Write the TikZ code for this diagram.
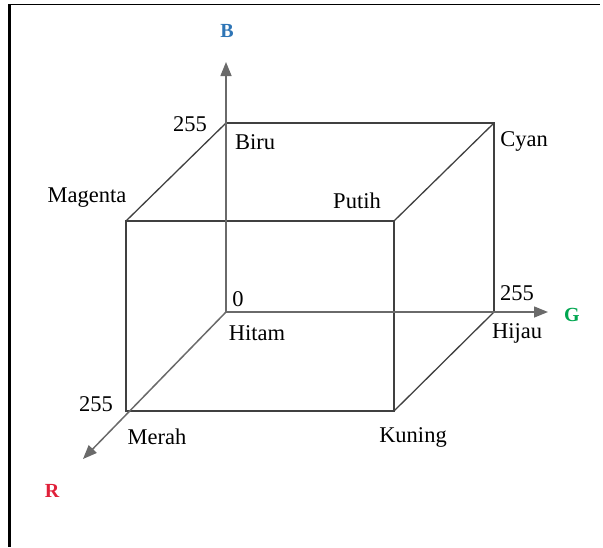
\documentclass[tikz,border=0pt]{standalone}
\usepackage{fontspec}
\setmainfont{Liberation Serif}
\usetikzlibrary{arrows.meta}
\definecolor{edgec}{HTML}{404040}
\definecolor{axisc}{HTML}{6A6A6A}
\definecolor{bblue}{HTML}{2E75B6}
\definecolor{ggreen}{HTML}{00A650}
\definecolor{rred}{HTML}{E0203A}
\tikzset{
  edge/.style={draw=edgec, line width=1.3pt},
  axis/.style={draw=axisc, line width=1.5pt, -{Triangle[length=14pt,width=11pt]}},
  lbl/.style={font=\fontsize{22.5}{26}\selectfont, text=black, inner sep=0pt},
  axlbl/.style={font=\fontsize{20}{23}\selectfont\bfseries, inner sep=0pt},
}
\begin{document}
\begin{tikzpicture}[x=1pt,y=-1pt]
\useasboundingbox (0,0) rectangle (603,547);
% frame
\draw[line width=2.5pt] (9.5,4) -- (9.5,547);
\draw[line width=1.2pt] (8.5,4.5) -- (600,4.5);
% cube vertices
\coordinate (O) at (226,312);
\coordinate (Bv) at (226,123);
\coordinate (GBv) at (494,123);
\coordinate (Gv) at (494,312);
\coordinate (RBv) at (126,221);
\coordinate (RGBv) at (394,221);
\coordinate (Rv) at (126,411);
\coordinate (RGv) at (394,411);
\coordinate (Bend) at (226,62);
\coordinate (Gend) at (548,312);
\coordinate (Rend) at (83,459);
% edges
\draw[edge] (Bv) -- (GBv) -- (Gv);
\draw[edge] (RBv) -- (RGBv) -- (RGv) -- (Rv) -- cycle;
\draw[edge] (RBv) -- (Bv);
\draw[edge] (RGBv) -- (GBv);
\draw[edge] (RGv) -- (Gv);
% axes
\draw[axis] (O) -- (Bend);
\draw[axis] (O) -- (Gend);
\draw[axis] (O) -- (Rend);
% axis labels
\node[axlbl, text=bblue] (labB) at (227,31) {B};
\node[axlbl, text=ggreen] (labG) at (572,315) {G};
\node[axlbl, text=rred] (labR) at (52,491) {R};
% vertex labels
\node[lbl] (t255b) at (190,124) {255};
\node[lbl] (biru) at (255,142) {Biru};
\node[lbl] (cyan) at (524,141) {Cyan};
\node[lbl] (magenta) at (87,198) {Magenta};
\node[lbl] (putih) at (357,201) {Putih};
\node[lbl] (zero) at (238,299) {0};
\node[lbl] (hitam) at (257,333) {Hitam};
\node[lbl] (t255g) at (517,293) {255};
\node[lbl] (hijau) at (517,333) {Hijau};
\node[lbl] (t255r) at (96,404) {255};
\node[lbl] (merah) at (157,437) {Merah};
\node[lbl] (kuning) at (413,437) {Kuning};
\end{tikzpicture}
\end{document}
